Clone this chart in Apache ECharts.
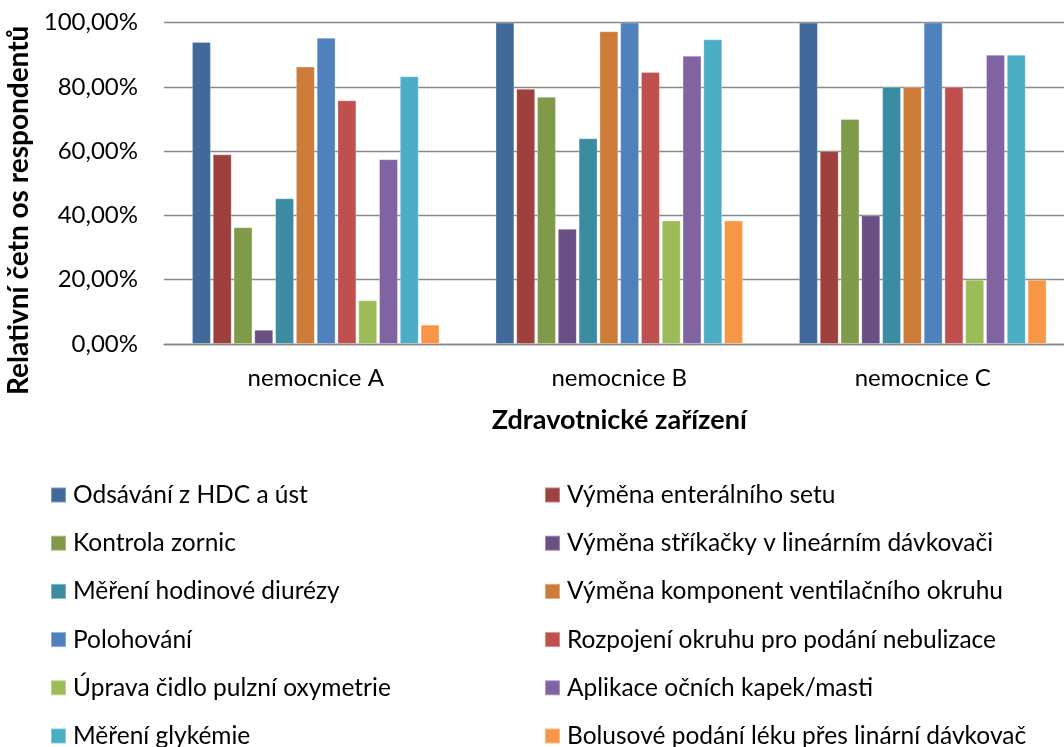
<!DOCTYPE html>
<html>
<head>
<meta charset="utf-8">
<script src="https://cdn.jsdelivr.net/npm/echarts@6/dist/echarts.min.js"></script>
<style>
html,body{margin:0;padding:0;background:#fff;}
#chart{width:1064px;height:747px;}
</style>
</head>
<body>
<div id="chart"></div>
<script>
const categories = ['nemocnice A', 'nemocnice B', 'nemocnice C'];
const seriesNames = [
  'Odsávání z HDC a úst',
  'Výměna enterálního setu',
  'Kontrola zornic',
  'Výměna stříkačky v lineárním dávkovači',
  'Měření hodinové diurézy',
  'Výměna komponent ventilačního okruhu',
  'Polohování',
  'Rozpojení okruhu pro podání nebulizace',
  'Úprava čidlo pulzní oxymetrie',
  'Aplikace očních kapek/masti',
  'Měření glykémie',
  'Bolusové podání léku přes linární dávkovač'
];
// values in % for nemocnice A, B, C
const odsavani = [94.0, 100, 100];
const enteralniSet = [59.0, 79.4, 60];
const zornice = [36.3, 76.9, 70];
const strikacka = [4.4, 35.8, 40];
const diureza = [45.3, 64.0, 80];
const ventilace = [86.3, 97.3, 80];
const polohovani = [95.3, 100, 100];
const nebulizace = [75.8, 84.6, 80];
const oxymetrie = [13.6, 38.4, 20];
const kapky = [57.5, 89.7, 90];
const glykemie = [83.3, 94.8, 90];
const bolus = [6.0, 38.4, 20];
const yTicks = [0, 20, 40, 60, 80, 100];

const seriesValues = [odsavani, enteralniSet, zornice, strikacka, diureza, ventilace,
  polohovani, nebulizace, oxymetrie, kapky, glykemie, bolus];
const colors = ['#41699A', '#9E403D', '#7F9A48', '#694F83', '#3B8BA1', '#CC7B38',
  '#4F81BD', '#C0504D', '#9BBB59', '#8064A2', '#4BACC6', '#F79646'];

const FONT = 'Lato';
const chart = echarts.init(document.getElementById('chart'), null, {renderer: 'canvas'});

// one legend component per item: two columns, row-major order
const legends = seriesNames.map((name, i) => ({
  orient: 'horizontal',
  left: (i % 2 === 0) ? 50 : 544,
  top: 482.5 + Math.floor(i / 2) * 48.2,
  padding: 0,
  itemWidth: 15,
  itemHeight: 15,
  icon: 'rect',
  selectedMode: false,
  data: [name],
  textStyle: {fontFamily: FONT, fontSize: 24.5, color: '#000', padding: [0, 0, 0, 2]}
}));

chart.setOption({
  animation: false,
  color: colors,
  grid: {left: 164, top: 22.7, width: 910.5, height: 321.3, containLabel: false, outerBoundsMode: 'none'},
  legend: legends,
  xAxis: {
    type: 'category',
    data: categories,
    name: 'Zdravotnické zařízení',
    nameLocation: 'middle',
    nameGap: 63,
    nameTextStyle: {fontFamily: FONT, fontSize: 27, fontWeight: 'bold', color: '#000'},
    axisLine: {show: true, lineStyle: {color: '#878787', width: 1.3}},
    axisTick: {show: false},
    axisLabel: {fontFamily: FONT, fontSize: 24, color: '#000', margin: 22}
  },
  yAxis: {
    type: 'value',
    min: 0,
    max: 100,
    interval: 20,
    name: 'Relativní četn os respondentů',
    nameLocation: 'middle',
    nameGap: 131,
    nameTextStyle: {fontFamily: FONT, fontSize: 28, fontWeight: 'bold', color: '#000', padding: [0, 54, 0, 0]},
    axisLine: {show: false},
    axisTick: {show: false},
    splitLine: {show: true, lineStyle: {color: '#878787', width: 1.3}},
    axisLabel: {
      fontFamily: FONT, fontSize: 24, color: '#000', margin: 26,
      formatter: v => yTicks.indexOf(v) >= 0 ? v.toFixed(2).replace('.', ',') + '%' : ''
    }
  },
  series: seriesValues.map((vals, i) => ({
    name: seriesNames[i],
    type: 'bar',
    data: vals,
    barGap: '11%',
    barCategoryGap: '18.5%',
    itemStyle: {color: colors[i], borderColor: 'rgba(255,255,255,0.35)', borderWidth: 0.8}
  }))
});
</script>
</body>
</html>
